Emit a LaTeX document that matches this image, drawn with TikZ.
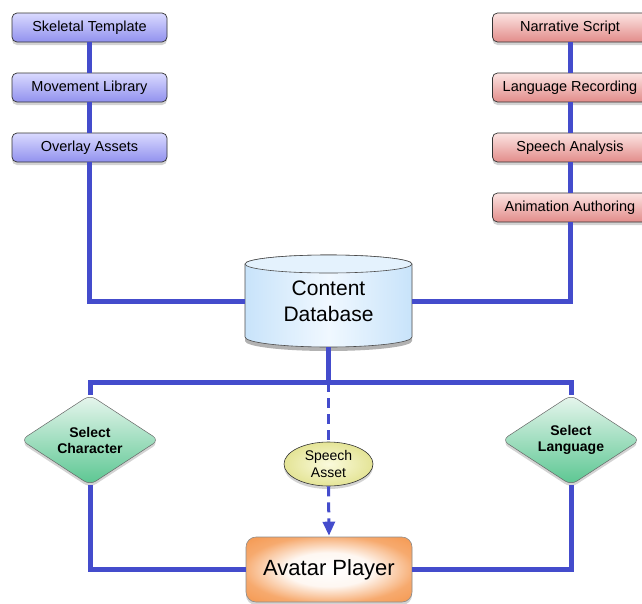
\documentclass[tikz,border=0pt]{standalone}
\usepackage{fontspec}
\setmainfont{Liberation Sans}
\usetikzlibrary{shapes.geometric,shadows,arrows.meta}

\definecolor{wire}{RGB}{68,76,204}
\definecolor{blueTop}{RGB}{218,218,255}
\definecolor{blueBot}{RGB}{145,145,238}
\definecolor{redTop}{RGB}{252,228,226}
\definecolor{redBot}{RGB}{226,140,138}
\definecolor{greenTop}{RGB}{232,246,238}
\definecolor{greenMid}{RGB}{200,236,216}
\definecolor{greenBot}{RGB}{90,198,145}
\definecolor{yellowIn}{RGB}{250,250,220}
\definecolor{yellowOut}{RGB}{228,228,150}
\definecolor{orangeOut}{RGB}{245,155,85}
\definecolor{cylSide}{RGB}{200,227,250}
\definecolor{cylMid}{RGB}{240,248,255}
\definecolor{cylTop}{RGB}{228,242,253}

% soft glow for the player box: white centre, orange rim
\pgfdeclareradialshading{playerglow}{\pgfpoint{0bp}{0bp}}{%
  color(0bp)=(white); color(13bp)=(white!92!orangeOut);
  color(21bp)=(orangeOut!55!white); color(26bp)=(orangeOut!85!white); color(34bp)=(orangeOut);
  color(50bp)=(orangeOut)}

\tikzset{
  shade/.style={drop shadow={shadow xshift=0pt,shadow yshift=-3pt,opacity=0.35}},
  srcbox/.style={rectangle, rounded corners=5pt, draw=black!80, line width=0.7pt,
    minimum width=155pt, minimum height=29pt, inner sep=0pt,
    font=\fontsize{14.5}{16}\selectfont, shade},
  leftbox/.style={srcbox, top color=blueTop, bottom color=blueBot},
  rightbox/.style={srcbox, top color=redTop, bottom color=redBot},
  choice/.style={diamond, aspect=1.53, rounded corners=7pt, draw=black!60, line width=0.5pt,
    minimum width=138pt, minimum height=90pt, inner sep=0pt, align=center,
    font=\bfseries\fontsize{14}{16}\selectfont,
    top color=greenTop, middle color=greenMid, bottom color=greenBot, shade},
  asset/.style={ellipse, draw=black!80, line width=0.6pt, minimum width=89pt, minimum height=44pt,
    inner sep=0pt, align=center, font=\fontsize{14}{17}\selectfont,
    inner color=yellowIn, outer color=yellowOut, shade},
  player/.style={rectangle, rounded corners=10pt, draw=black!45, line width=0.6pt,
    minimum width=166pt, minimum height=65pt, inner sep=0pt,
    font=\fontsize{22}{26}\selectfont, shading=playerglow, shade},
  wireline/.style={draw=wire, line width=5pt},
  dashline/.style={draw=wire, line width=3pt, dash pattern=on 10pt off 6pt}
}

\begin{document}
\begin{tikzpicture}[x=1pt,y=-1pt]
\useasboundingbox (0,0) rectangle (642,603);
\clip (0,0) rectangle (642,603);

% database cylinder: shadow, body and top face
\begin{scope}[shift={(0,4)}]
  \fill[black,opacity=0.3] (245,264) -- (245,337)
    arc[start angle=180,end angle=360,x radius=83.5pt,y radius=10pt]
    -- (412,264) arc[start angle=0,end angle=180,x radius=83.5pt,y radius=9pt] -- cycle;
\end{scope}
\path[draw=black!70, line width=0.6pt, left color=cylSide, right color=cylSide, middle color=cylMid]
  (245,264) -- (245,337)
  arc[start angle=180,end angle=360,x radius=83.5pt,y radius=10pt]
  -- (412,264) arc[start angle=0,end angle=180,x radius=83.5pt,y radius=9pt] -- cycle;
\path[draw=black!70, line width=0.6pt, fill=cylTop] (328.5,264) ellipse [x radius=83.5pt, y radius=9pt];

% nodes
\node[leftbox] (st) at (89.5,27.5) {Skeletal Template};
\node[leftbox] (ml) at (89.5,87.5) {Movement Library};
\node[leftbox] (oa) at (89.5,147.5) {Overlay Assets};

\node[rightbox] (ns) at (570,27.5) {Narrative Script};
\node[rightbox] (lr) at (570,87.5) {Language Recording};
\node[rightbox] (sp) at (570,147.5) {Speech Analysis};
\node[rightbox] (aa) at (570,207.5) {Animation Authoring};

\node[minimum width=167pt, minimum height=92pt, inner sep=0pt, align=center,
  font=\fontsize{21}{26}\selectfont] (db) at (328.5,301) {Content\\Database};

\coordinate (j) at (328.5,382);

\node[choice] (sc) at (90,440) {Select\\Character};
\node[choice] (sl) at (571,440) {Select\\Language};

\node[asset] (sa) at (328.5,464) {Speech\\Asset};

\node[player] (ap) at (329,569.5) {Avatar Player};

% connectors
\draw[wireline] (st) -- (ml);
\draw[wireline] (ml) -- (oa);
\draw[wireline] (oa.south) |- (db.west);

\draw[wireline] (ns) -- (lr);
\draw[wireline] (lr) -- (sp);
\draw[wireline] (sp) -- (aa);
\draw[wireline] (aa.south) |- (db.east);

\draw[wireline] (db.south) -- (j);
\draw[wireline] (sc.north) |- (j) -| (sl.north);

\draw[dashline] (j) -- (sa.north);
\draw[dashline, -{Triangle[width=12pt,length=14pt]}, shorten >=1pt] (sa.south) -- (ap.north);

\draw[wireline] (sc.south) |- (ap.west);
\draw[wireline] (sl.south) |- (ap.east);
\end{tikzpicture}
\end{document}
